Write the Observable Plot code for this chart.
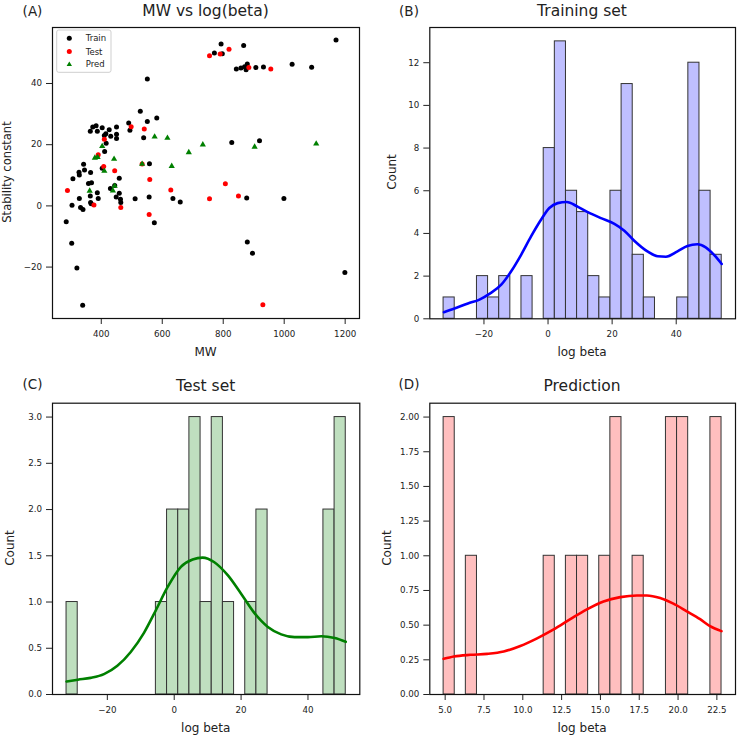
<!DOCTYPE html>
<html><head><meta charset="utf-8">
<script src="https://cdn.jsdelivr.net/npm/d3@7"></script>
<script src="https://cdn.jsdelivr.net/npm/@observablehq/plot@0.6"></script>
<style>
body{margin:0;background:#fff;}
#root{position:relative;width:738px;height:737px;font-family:"DejaVu Sans",sans-serif;color:#222;overflow:hidden;background:#fff;}
.lbl{position:absolute;transform:translate(-50%,-50%);white-space:nowrap;line-height:1;}
.panel{position:absolute;}
</style></head><body><div id="root"></div>
<script>
// ---- Panel A: scatter MW vs log(beta) ----
const trainMW = [1170,793,867,771,797,843,858,870,879,875,907,932,1026,1090,551,528,582,551,490,494,539,372,383,364,387,403,426,450,415,410,431,450,450,416,411,403,342,345,327,328,365,307,459,358,368,444,430,387,459,364,390,328,449,463,464,365,367,511,558,557,635,659,574,304,332,340,285,303,320,339,828,919,877,999,879,896,1199];
const trainLogBeta = [54.2,52.9,52.4,50.0,49.7,44.7,45.1,45.5,46.4,44.5,45.2,45.4,46.3,45.3,41.5,30.9,28.7,27.6,27.1,24.7,22.3,25.8,26.2,24.4,24.4,25.5,24.9,25.8,23.6,23.0,22.8,23.4,22.0,20.5,17.8,12.3,13.6,11.7,11.0,10.1,10.9,8.9,9.0,7.3,7.6,6.7,5.7,4.3,4.1,3.2,2.4,2.4,2.9,2.2,1.1,1.1,0.7,2.3,13.8,2.9,2.4,1.3,-5.5,0.2,-0.5,-1.2,-5.2,-12.2,-20.3,-32.5,20.7,21.3,2.6,2.4,-11.8,-15.5,-21.8];
const testMW = [755,790,819,884,956,498,541,410,390,408,444,534,559,628,807,850,755,289,376,464,557,930];
const testLogBeta = [49.1,49.6,51.2,45.2,44.7,25.9,25.1,21.8,16.7,12.9,11.5,13.7,8.6,5.2,7.2,3.2,2.3,5.0,0.3,-0.5,-2.8,-32.3];
const predMW = [575,617,733,687,903,1105,403,379,388,442,534,631,410,444,438,362];
const predLogBeta = [22.6,22.2,20.0,17.5,19.3,20.3,19.5,15.7,15.9,15.3,13.7,13.0,11.4,6.5,5.0,4.9];

// ---- Histograms: bin counts (25 bins each) and data range ----
const trainCounts = [1,0,0,2,1,2,0,2,0,8,13,6,5,2,1,6,11,3,1,0,0,1,12,6,3];
const trainRange = [-32.6, 54.2];
const testCounts = [1,0,0,0,0,0,0,0,1,2,2,3,1,3,1,0,1,2,0,0,0,0,0,2,3];
const testRange = [-32.2, 51.3];
const predCounts = [2,0,1,0,0,0,0,0,0,1,0,1,1,0,1,2,0,1,0,0,2,2,0,0,2];
const predRange = [4.9, 22.8];

// ---- KDE curves (count scale) ----
const trainKdeX = [-32.5,-29.2,-25.0,-21.4,-18.3,-14.6,-11.5,-8.4,-5.3,-2.2,0.4,3.0,5.8,9.2,12.4,16.5,20.7,23.8,26.9,31.0,34.2,36.8,40.4,43.5,46.6,49.2,51.8,54.2];
const trainKdeY = [0.31,0.48,0.72,0.90,1.17,1.60,2.23,3.0,3.86,4.64,5.19,5.42,5.47,5.26,5.0,4.72,4.45,4.13,3.66,3.16,2.93,2.91,3.16,3.41,3.49,3.35,3.0,2.57];
const testKdeX = [-32.2,-28.8,-25,-21,-17,-13,-9,-5.5,-2,2,5.5,8.5,12,16,20,24,28,32,36,40,44,48,51.3];
const testKdeY = [0.14,0.16,0.18,0.22,0.31,0.46,0.67,0.91,1.16,1.38,1.46,1.48,1.43,1.29,1.09,0.88,0.73,0.65,0.62,0.62,0.63,0.61,0.57];
const predKdeX = [4.9,5.56,6.63,7.70,8.77,9.84,10.92,11.99,13.06,14.13,15.2,16.28,17.35,17.99,18.85,19.7,20.56,21.42,22.06,22.8];
const predKdeY = [0.257,0.274,0.286,0.293,0.31,0.35,0.405,0.469,0.543,0.614,0.671,0.702,0.714,0.714,0.695,0.655,0.6,0.543,0.493,0.457];

// ---- Ticks ----
const aXTicks = [400,600,800,1000,1200];
const aYTicks = [-20,0,20,40];
const logBetaTicks = [-20,0,20,40];
const trainYTicks = [0,2,4,6,8,10,12];
const testYTicks = [0,0.5,1,1.5,2,2.5,3];
const predXTicks = [5,7.5,10,12.5,15,17.5,20,22.5];
const predYTicks = [0,0.25,0.5,0.75,1,1.25,1.5,1.75,2];

const root = document.getElementById("root");
const svgStyle = {fontFamily:"DejaVu Sans, sans-serif", fontSize:"8.7px", color:"#222", background:"transparent", overflow:"visible"};
const intFmt = d3.format("d");

function place(el, left, top){
  el.classList.add("panel");
  el.style.left = left+"px"; el.style.top = top+"px";
  root.appendChild(el);
}
function label(text, x, y, size, rotate){
  const d = document.createElement("div");
  d.className = "lbl";
  d.textContent = text;
  d.style.left = x+"px"; d.style.top = y+"px";
  d.style.fontSize = size+"px";
  if (rotate) d.style.transform = "translate(-50%,-50%) rotate(-90deg)";
  root.appendChild(d);
}

// Panel A
const trainPts = trainMW.map((m,i)=>({mw:m, lb:trainLogBeta[i]}));
const testPts = testMW.map((m,i)=>({mw:m, lb:testLogBeta[i]}));
const predPts = predMW.map((m,i)=>({mw:m, lb:predLogBeta[i]}));
const plotA = Plot.plot({
  width:369, height:369, marginLeft:52, marginRight:10, marginTop:27, marginBottom:51,
  style: svgStyle,
  x:{domain:[240,1247], ticks:aXTicks, tickFormat:intFmt, tickSize:6, tickPadding:6.5, label:null},
  y:{domain:[-36.8,58.3], ticks:aYTicks, tickFormat:intFmt, tickSize:6, tickPadding:4.5, label:null},
  marks:[
    Plot.dot(trainPts,{x:"mw", y:"lb", r:2.5, fill:"black"}),
    Plot.dot(testPts,{x:"mw", y:"lb", r:2.5, fill:"red"}),
    Plot.dot(predPts,{x:"mw", y:"lb", r:2.3, fill:"green", symbol:"triangle"}),
    Plot.frame({stroke:"#111", strokeWidth:1.2})
  ]
});
place(plotA, 0, 0);

function histPanel(o){
  const n = o.counts.length;
  const edges = d3.range(n+1).map(i => o.range[0] + (o.range[1]-o.range[0])*i/n);
  const bars = o.counts.map((c,i)=>({x1:edges[i], x2:edges[i+1], c})).filter(d=>d.c>0);
  const kde = o.kx.map((x,i)=>({x, y:o.ky[i]}));
  return Plot.plot({
    width:369, height:o.height, marginLeft:o.ml, marginRight:o.mr, marginTop:o.mt, marginBottom:o.mb,
    style: svgStyle,
    x:{domain:o.xDomain, ticks:o.xTicks, tickFormat:o.xFmt, tickSize:6, tickPadding:6.5, label:null},
    y:{domain:o.yDomain, ticks:o.yTicks, tickFormat:o.yFmt, tickSize:6, tickPadding:4.5, label:null},
    marks:[
      Plot.rect(bars,{x1:"x1", x2:"x2", y1:d=>0, y2:"c", fill:o.fill, stroke:"#333", strokeWidth:1}),
      Plot.line(kde,{x:"x", y:"y", stroke:o.line, strokeWidth:2.6, curve:"monotone-x"}),
      Plot.frame({stroke:"#111", strokeWidth:1.2})
    ]
  });
}

const plotB = histPanel({counts:trainCounts, range:trainRange, kx:trainKdeX, ky:trainKdeY,
  fill:"#bfbfff", line:"#0000ff", height:369, ml:60.3, mr:3, mt:27, mb:50.7,
  xDomain:[-36.9,58.5], yDomain:[0,13.65], xTicks:logBetaTicks, yTicks:trainYTicks, xFmt:intFmt, yFmt:intFmt});
place(plotB, 369, 0);

const plotC = histPanel({counts:testCounts, range:testRange, kx:testKdeX, ky:testKdeY,
  fill:"#bfdfbf", line:"#008000", height:368, ml:52, mr:9.7, mt:33.7, mb:43,
  xDomain:[-36.4,55.5], yDomain:[0,3.15], xTicks:logBetaTicks, yTicks:testYTicks, xFmt:intFmt, yFmt:d3.format(".1f")});
place(plotC, 0, 369);

const plotD = histPanel({counts:predCounts, range:predRange, kx:predKdeX, ky:predKdeY,
  fill:"#ffbfbf", line:"#ff0000", height:368, ml:60.3, mr:3, mt:33.7, mb:43,
  xDomain:[4.01,23.7], yDomain:[0,2.1], xTicks:predXTicks, yTicks:predYTicks, xFmt:d3.format(".1f"), yFmt:d3.format(".2f")});
place(plotD, 369, 369);

// Legend for panel A
const ns = "http://www.w3.org/2000/svg";
const leg = document.createElementNS(ns, "svg");
leg.setAttribute("width", 738); leg.setAttribute("height", 737);
leg.style.position = "absolute"; leg.style.left = "0px"; leg.style.top = "0px"; leg.style.pointerEvents = "none";
leg.innerHTML = `
<rect x="56.7" y="30" width="54.3" height="42.3" rx="2" fill="white" fill-opacity="0.85" stroke="#cfcfcf" stroke-width="1"/>
<circle cx="69.3" cy="38.3" r="2.5" fill="black"/>
<circle cx="69.3" cy="51.5" r="2.5" fill="red"/>
<path d="M69.3,61.4 L72,66 L66.6,66 Z" fill="green"/>
<g font-family="DejaVu Sans, sans-serif" font-size="8.5" fill="#222">
<text x="85.7" y="41.3">Train</text>
<text x="85.7" y="54.5">Test</text>
<text x="85.7" y="67.3">Pred</text>
</g>`;
root.appendChild(leg);

// Titles, panel letters, axis labels
label("MW vs log(beta)", 205.5, 12, 15.5);
label("Training set", 582, 12, 15.5);
label("Test set", 205.7, 387, 15.5);
label("Prediction", 582, 387, 15.5);
label("(A)", 32.5, 11.5, 13.5);
label("(B)", 409, 11.5, 13.5);
label("(C)", 32.5, 385, 13.5);
label("(D)", 409, 385, 13.5);
label("MW", 205.5, 351.7, 12);
label("log beta", 582, 351.7, 12);
label("log beta", 205.7, 728.3, 12);
label("log beta", 582, 728.3, 12);
label("Stability constant", 7.5, 172, 11.6, true);
label("Count", 392, 172, 12, true);
label("Count", 10, 548, 12, true);
label("Count", 387, 548, 12, true);
</script>
</body></html>
